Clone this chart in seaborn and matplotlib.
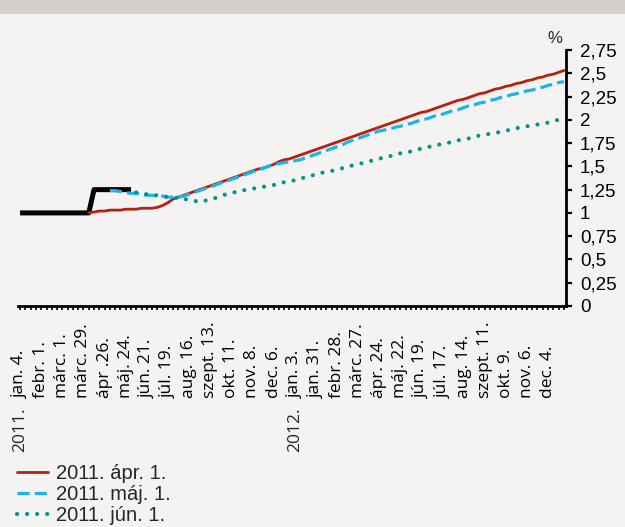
import numpy as np
import pandas as pd
import matplotlib.pyplot as plt
import seaborn as sns
from matplotlib.patches import Rectangle
import matplotlib.transforms as mtransforms

# weekly axis, 2011. jan. 4. - 2012. dec. 25.
weeks = pd.date_range("2011-01-04", periods=104, freq="7D")

tick_labels = ["jan. 4.", "febr. 1.", "márc. 1.", "márc. 29.", "ápr .26.", "máj. 24.",
               "jún. 21.", "júl. 19.", "aug. 16.", "szept. 13.", "okt. 11.", "nov. 8.",
               "dec. 6.", "jan. 3.", "jan. 31.", "febr. 28.", "márc. 27.", "ápr. 24.",
               "máj. 22.", "jún. 19.", "júl. 17.", "aug. 14.", "szept. 11.", "okt. 9.",
               "nov. 6.", "dec. 4."]
year_labels = ["2011.", "2012."]
year_dates = ["2011-01-04", "2012-01-03"]

# actual rate
actual_start = "2011-01-04"
actual_values = [1.0, 1.0, 1.0, 1.0, 1.0, 1.0, 1.0, 1.0, 1.0, 1.0, 1.0, 1.0, 1.0, 1.0,
                 1.25, 1.25, 1.25, 1.25, 1.25, 1.25, 1.25, 1.25]

# expectations
apr_start = "2011-04-05"
apr_values = [1.00, 1.01, 1.02, 1.02, 1.03, 1.03, 1.03, 1.04, 1.04, 1.04, 1.05, 1.05, 1.05,
              1.06, 1.08, 1.11, 1.15, 1.17, 1.19, 1.21, 1.23, 1.25, 1.27, 1.29, 1.31, 1.33,
              1.35, 1.37, 1.39, 1.41, 1.43, 1.45, 1.47, 1.48, 1.50, 1.52, 1.55, 1.57, 1.58,
              1.60, 1.62, 1.64, 1.66, 1.68, 1.70, 1.72, 1.74, 1.76, 1.78, 1.80, 1.82, 1.84,
              1.86, 1.88, 1.90, 1.92, 1.94, 1.96, 1.98, 2.00, 2.02, 2.04, 2.06, 2.08, 2.09,
              2.11, 2.13, 2.15, 2.17, 2.19, 2.21, 2.22, 2.24, 2.26, 2.28, 2.29, 2.31, 2.33,
              2.34, 2.36, 2.37, 2.39, 2.40, 2.42, 2.43, 2.45, 2.46, 2.48, 2.49, 2.51, 2.53]

may_start = "2011-05-03"
may_values = [1.24, 1.24, 1.23, 1.22, 1.21, 1.21, 1.20, 1.19, 1.19, 1.18, 1.18, 1.17, 1.17,
              1.17, 1.18, 1.20, 1.22, 1.24, 1.26, 1.28, 1.30, 1.32, 1.34, 1.36, 1.38, 1.40,
              1.42, 1.44, 1.46, 1.48, 1.50, 1.52, 1.53, 1.54, 1.55, 1.56, 1.57, 1.59, 1.61,
              1.63, 1.65, 1.67, 1.69, 1.71, 1.73, 1.76, 1.78, 1.80, 1.82, 1.84, 1.86, 1.88,
              1.89, 1.90, 1.92, 1.93, 1.95, 1.96, 1.98, 2.00, 2.01, 2.03, 2.05, 2.06, 2.08,
              2.10, 2.11, 2.13, 2.15, 2.16, 2.18, 2.19, 2.21, 2.22, 2.24, 2.25, 2.27, 2.28,
              2.30, 2.31, 2.32, 2.34, 2.35, 2.37, 2.38, 2.40, 2.41]

jun_start = "2011-06-07"
jun_values = [1.22, 1.21, 1.20, 1.19, 1.19, 1.18, 1.17, 1.16, 1.16, 1.15, 1.14, 1.13, 1.12,
              1.13, 1.15, 1.16, 1.18, 1.20, 1.21, 1.23, 1.24, 1.25, 1.26, 1.27, 1.28, 1.29,
              1.30, 1.31, 1.33, 1.34, 1.35, 1.37, 1.38, 1.40, 1.41, 1.43, 1.44, 1.45, 1.47,
              1.48, 1.50, 1.51, 1.52, 1.54, 1.55, 1.57, 1.58, 1.60, 1.61, 1.62, 1.64, 1.65,
              1.66, 1.68, 1.69, 1.70, 1.72, 1.73, 1.74, 1.75, 1.77, 1.78, 1.79, 1.80, 1.82,
              1.83, 1.84, 1.85, 1.86, 1.87, 1.88, 1.90, 1.91, 1.92, 1.93, 1.94, 1.95, 1.96,
              1.97, 1.99, 2.00, 2.01]

y_ticks = [0, 0.25, 0.5, 0.75, 1, 1.25, 1.5, 1.75, 2, 2.25, 2.5, 2.75]

bg = "#F4F3F1"
band = "#D5D0CB"


def series_frame(start, values):
    i0 = weeks.get_loc(pd.Timestamp(start))
    return pd.DataFrame({"week": np.arange(i0, i0 + len(values)), "value": values})


sns.set_theme(style="white")
plt.rcParams["font.family"] = ["Liberation Sans", "DejaVu Sans"]

fig = plt.figure(figsize=(6.25, 5.27), dpi=100, facecolor=bg)
fig.add_artist(Rectangle((0, 1 - 14 / 527), 1, 14 / 527, transform=fig.transFigure,
                         facecolor=band, edgecolor="none", zorder=0))
ax = fig.add_axes([18 / 625, 1 - 306 / 527, 548 / 625, 256 / 527])
ax.set_facecolor(bg)

sns.lineplot(data=series_frame(actual_start, actual_values), x="week", y="value",
             color="black", lw=3.6, ax=ax, solid_capstyle="butt", zorder=2)
sns.lineplot(data=series_frame(apr_start, apr_values), x="week", y="value",
             color="#B52010", lw=2.0, ax=ax, label="2011. ápr. 1.", zorder=3)
sns.lineplot(data=series_frame(may_start, may_values), x="week", y="value",
             color="#1CB5E8", lw=2.3, ax=ax, label="2011. máj. 1.", zorder=4,
             dashes=(3.8, 1.6))
sns.lineplot(data=series_frame(jun_start, jun_values), x="week", y="value",
             color="#00968A", lw=3.0, ax=ax, label="2011. jún. 1.", zorder=5,
             dashes=(0.01, 2.4), dash_capstyle="round")

handles, labels = ax.get_legend_handles_labels()
if ax.get_legend() is not None:
    ax.get_legend().remove()

ax.set_xlim(-0.4, 103.4)
ax.set_ylim(0, 2.75)
ax.set_xlabel("")
ax.set_ylabel("")

for s in ["left", "top"]:
    ax.spines[s].set_visible(False)
for s in ["right", "bottom"]:
    ax.spines[s].set_color("black")
    ax.spines[s].set_linewidth(2)

ax.yaxis.tick_right()
ax.set_yticks(y_ticks)
ax.set_yticklabels([f"{v:g}".replace(".", ",") for v in y_ticks], fontsize=13.5)
ax.tick_params(axis="y", right=True, direction="out", length=4, width=1.6, pad=6,
               colors="black")

xt = np.arange(len(weeks))
ax.set_xticks(xt)
ax.set_xticklabels([tick_labels[i // 4] if i % 4 == 0 else "" for i in xt],
                   rotation=90, va="bottom", ha="center", fontsize=12.5,
                   fontfamily="Open Sans")
ax.tick_params(axis="x", bottom=True, direction="out", length=3.2, width=1.2, pad=63,
               colors="black")

trans = mtransforms.blended_transform_factory(ax.transData, ax.transAxes)
for lab, d in zip(year_labels, year_dates):
    ax.text(weeks.get_loc(pd.Timestamp(d)), (306 - 452) / 256, lab, transform=trans,
            rotation=90, ha="center", va="bottom", fontsize=12.5, fontfamily="Open Sans")

ax.text(0.993, 1.015, "%", transform=ax.transAxes, ha="right", va="bottom", fontsize=12)

fig.legend(handles, labels, loc="upper left", bbox_to_anchor=(0.027, 0.119),
           frameon=False, fontsize=14.5, handlelength=1.55, handletextpad=0.4,
           labelspacing=0.1, borderpad=0, borderaxespad=0)

fig.savefig("out.png", dpi=100, facecolor=bg)
